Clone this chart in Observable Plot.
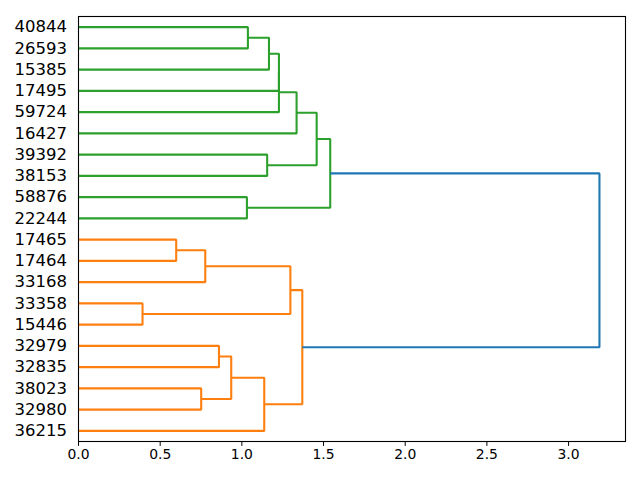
<!DOCTYPE html>
<html><head><meta charset="utf-8">
<script src="https://cdn.jsdelivr.net/npm/d3@7"></script>
<script src="https://cdn.jsdelivr.net/npm/@observablehq/plot@0.6"></script>
<style>body{margin:0;background:#fff} svg{display:block}</style>
</head><body><div id="chart"></div>
<script>
// Leaf labels, top to bottom
const leafLabels = ["40844","26593","15385","17495","59724","16427","39392","38153","58876","22244",
  "17465","17464","33168","33358","15446","32979","32835","38023","32980","36215"];
// Merges (node ids: leaves 0..19, merges 20+ in order)
const mergeLeft    = [0, 20, 21, 22, 23, 6, 24, 8, 26, 10, 29, 13, 30, 15, 17, 33, 35, 32, 28];
const mergeRight   = [1, 2, 3, 4, 5, 7, 25, 9, 27, 11, 12, 14, 31, 16, 18, 34, 19, 36, 37];
const mergeHeight  = [1.037, 1.166, 1.227, 1.227, 1.335, 1.155, 1.458, 1.031, 1.541,
  0.598, 0.776, 0.392, 1.297, 0.860, 0.751, 0.935, 1.137, 1.370, 3.189];
const mergeCluster = ["C2","C2","C2","C2","C2","C2","C2","C2","C2",
  "C1","C1","C1","C1","C1","C1","C1","C1","C1","C0"];
const clusterNames = ["C2","C1","C0"];
const xTicks = [0, 0.5, 1, 1.5, 2, 2.5, 3];

const n = leafLabels.length;
const nodeY = leafLabels.map((_, i) => 10 * (n - 1 - i) + 5);
const leafY = nodeY.slice();
const nodeH = leafLabels.map(() => 0);
const links = [];
mergeLeft.forEach((a, k) => {
  const b = mergeRight[k], h = mergeHeight[k];
  const ya = nodeY[a], yb = nodeY[b];
  [[nodeH[a], ya], [h, ya], [h, yb], [nodeH[b], yb]].forEach(([x, y]) =>
    links.push({id: k, x, y, cluster: mergeCluster[k]}));
  nodeY.push((ya + yb) / 2);
  nodeH.push(h);
});
const labelAt = new Map(leafY.map((y, i) => [y, leafLabels[i]]));

const chart = Plot.plot({
  width: 640, height: 480,
  marginLeft: 78, marginRight: 15, marginTop: 16, marginBottom: 39,
  style: {fontFamily: "DejaVu Sans", background: "#fff", color: "#000"},
  x: {domain: [0, d3.max(mergeHeight) * 1.05]},
  y: {domain: [0, 10 * n]},
  color: {domain: clusterNames, range: ["#2ca02c", "#ff7f0e", "#1f77b4"]},
  marks: [
    Plot.line(links, {x: "x", y: "y", z: "id", stroke: "cluster", strokeWidth: 2.08,
      strokeLinejoin: "miter", strokeLinecap: "butt"}),
    Plot.frame({stroke: "#000", strokeWidth: 1.1}),
    Plot.axisX({ticks: xTicks, tickFormat: d3.format(".1f"), tickSize: 4.9, tickPadding: 3,
      fontSize: 13.9, label: null}),
    Plot.axisY({ticks: leafY, tickFormat: d => labelAt.get(d), tickSize: 0, tickPadding: 11.5,
      fontSize: 16.5, label: null})
  ]
});
document.getElementById("chart").appendChild(chart);
</script>
</body></html>
